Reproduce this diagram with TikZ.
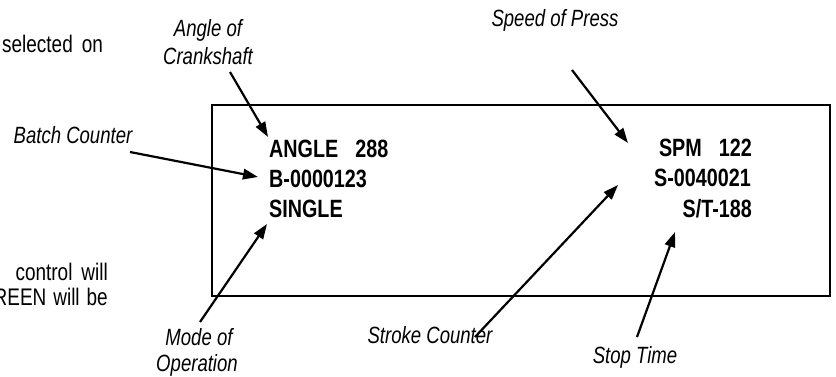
\documentclass[tikz,border=0pt]{standalone}
\usepackage{fontspec}
\setmainfont{Liberation Sans}[FakeStretch=0.79]
\usetikzlibrary{arrows.meta}
\tikzset{
  lab/.style={font=\fontsize{23.5}{28}\selectfont\itshape, inner sep=0pt},
  body/.style={font=\fontsize{24}{25}\selectfont, inner sep=0pt},
  disp/.style={font=\fontsize{25}{30}\selectfont\bfseries, inner sep=0pt},
  pointer/.style={line width=2.2pt, -{Triangle[length=15pt,width=10.5pt]}},
  frame/.style={line width=2.2pt}
}
\begin{document}
\begin{tikzpicture}[x=1pt,y=-1pt]
\useasboundingbox (0,0) rectangle (836,377);
% display frame
\draw[frame] (212,105) rectangle (830,296);
% side body text
\node[body, anchor=base west] (t1) at (2,53) {selected\hspace{9pt}on};
\node[body, anchor=base east] (t2) at (108,280) {control\hspace{9pt}will};
\node[body, anchor=base east] (t3) at (108,305) {REEN\hspace{7pt}will\hspace{7pt}be};
% display contents
\node[disp, anchor=base west] (d1) at (269,158) {ANGLE\hspace{17pt}288};
\node[disp, anchor=base west] (d2) at (269,188) {B-0000123};
\node[disp, anchor=base west] (d3) at (269,218) {SINGLE};
\node[disp, anchor=base east] (d4) at (752,157) {SPM\hspace{17pt}122};
\node[disp, anchor=base east] (d5) at (751,187) {S-0040021};
\node[disp, anchor=base east] (d6) at (752,218) {S/T-188};
% labels
\node[lab, anchor=base] (l1a) at (208,37) {Angle of};
\node[lab, anchor=base] (l1b) at (208,65) {Crankshaft};
\node[lab, anchor=base] (l2) at (73,144) {Batch Counter};
\node[lab, anchor=base] (l3a) at (199,345) {Mode of};
\node[lab, anchor=base] (l3b) at (197,371) {Operation};
\node[lab, anchor=base] (l4) at (555,27) {Speed of Press};
\node[lab, anchor=base] (l5) at (430,343) {Stroke Counter};
\node[lab, anchor=base] (l6) at (635,363) {Stop Time};
% arrow ends
\coordinate (a1s) at (230,72);  \coordinate (a1e) at (268,137);
\coordinate (a2s) at (130,152); \coordinate (a2e) at (258,177);
\coordinate (a3s) at (200,322); \coordinate (a3e) at (267,224);
\coordinate (a4s) at (572,70);  \coordinate (a4e) at (628,143);
\coordinate (a5s) at (475,337); \coordinate (a5e) at (618,185);
\coordinate (a6s) at (637,337); \coordinate (a6e) at (675,232);
\draw[pointer] (a1s) -- (a1e);
\draw[pointer] (a2s) -- (a2e);
\draw[pointer] (a3s) -- (a3e);
\draw[pointer] (a4s) -- (a4e);
\draw[pointer] (a5s) -- (a5e);
\draw[pointer] (a6s) -- (a6e);
\end{tikzpicture}
\end{document}
